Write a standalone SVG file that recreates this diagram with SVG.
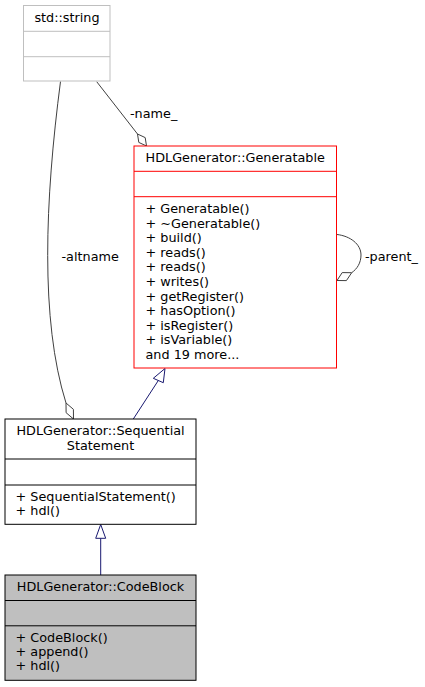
<svg xmlns="http://www.w3.org/2000/svg" width="425" height="687" viewBox="0 0 425 687">
<style>
text{font-family:"DejaVu Sans","Liberation Sans",sans-serif;font-size:12.8px;fill:#000}
.c{text-anchor:middle}
.box{stroke-width:1}
.edge{fill:none;stroke:#404040;stroke-width:1}
.inh{fill:none;stroke:#191970;stroke-width:1}
.dia{fill:#fff;stroke:#404040;stroke-width:1}
.tri{fill:#fff;stroke:#191970;stroke-width:1}
</style>
<rect width="425" height="687" fill="#fff"/>
<g id="connectors">
<path class="edge" d="M96.7,81.7 L137.5,134"/>
<polygon class="dia" points="137.5,134 145.2,137.6 146.5,146 138.8,142.4"/>
<text x="130" y="117.5">-name_</text>
<path class="edge" d="M60.5,81.5 C45,200 40,320 66,403"/>
<polygon class="dia" points="66,403 73.4,409.3 73.5,419 66.1,412.7"/>
<text x="61.5" y="261">-altname</text>
<path class="edge" d="M337,234.5 C350,236 361,244 361,255 C361,263 357,269 351.7,272.7"/>
<polygon class="dia" points="351.7,272.7 346.4,280.6 337,280.5 342.2,272.6"/>
<text x="365" y="260.5">-parent_</text>
<path class="inh" d="M133.3,419 L158.3,380.5"/>
<polygon class="tri" points="165,368.5 153.3,378.3 163.3,382.7"/>
<path class="inh" d="M100.7,575 L100.7,538.3"/>
<polygon class="tri" points="100.7,524.5 95.7,538.3 105.7,538.3"/>
</g>
<g id="std_string">
<rect class="box" x="23.5" y="5.5" width="86.5" height="75.5" fill="#fff" stroke="#bfbfbf"/>
<line x1="23.5" y1="31.3" x2="110" y2="31.3" stroke="#bfbfbf"/>
<line x1="23.5" y1="56.7" x2="110" y2="56.7" stroke="#bfbfbf"/>
<text class="c" x="67" y="21.8">std::string</text>
</g>
<g id="Generatable">
<rect class="box" x="134" y="146" width="202.5" height="222" fill="#fff" stroke="#ff0000"/>
<line x1="134" y1="171.3" x2="336.5" y2="171.3" stroke="#ff0000"/>
<line x1="134" y1="196.7" x2="336.5" y2="196.7" stroke="#ff0000"/>
<text class="c" x="235.2" y="162">HDLGenerator::Generatable</text>
<text x="145.5" y="213.3">+ Generatable()</text>
<text x="145.5" y="227.8">+ ~Generatable()</text>
<text x="145.5" y="242.4">+ build()</text>
<text x="145.5" y="256.9">+ reads()</text>
<text x="145.5" y="271.4">+ reads()</text>
<text x="145.5" y="286">+ writes()</text>
<text x="145.5" y="300.5">+ getRegister()</text>
<text x="145.5" y="315">+ hasOption()</text>
<text x="145.5" y="329.5">+ isRegister()</text>
<text x="145.5" y="344">+ isVariable()</text>
<text x="145.5" y="358.6">and 19 more...</text>
</g>
<g id="SequentialStatement">
<rect class="box" x="5" y="419" width="191" height="105.3" fill="#fff" stroke="#000"/>
<line x1="5" y1="459" x2="196" y2="459" stroke="#000"/>
<line x1="5" y1="485" x2="196" y2="485" stroke="#000"/>
<text class="c" x="100.5" y="435">HDLGenerator::Sequential</text>
<text class="c" x="100.5" y="449.6">Statement</text>
<text x="15.5" y="501">+ SequentialStatement()</text>
<text x="15.5" y="515">+ hdl()</text>
</g>
<g id="CodeBlock">
<rect class="box" x="5" y="575" width="191" height="105.3" fill="#bfbfbf" stroke="#000"/>
<line x1="5" y1="600.5" x2="196" y2="600.5" stroke="#000"/>
<line x1="5" y1="625.8" x2="196" y2="625.8" stroke="#000"/>
<text class="c" x="100.5" y="590.7">HDLGenerator::CodeBlock</text>
<text x="15.5" y="641.7">+ CodeBlock()</text>
<text x="15.5" y="655.9">+ append()</text>
<text x="15.5" y="670">+ hdl()</text>
</g>
</svg>
